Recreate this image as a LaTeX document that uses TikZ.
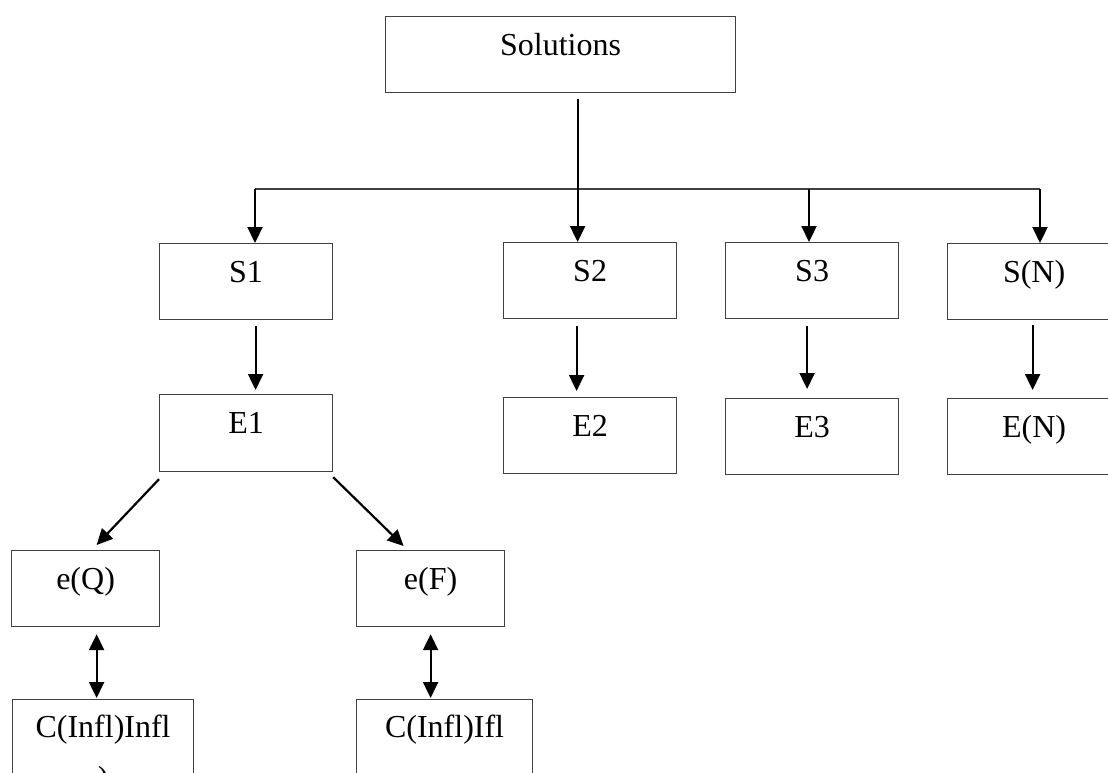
\documentclass[tikz,border=0pt]{standalone}
\usepackage{fontspec}
\setmainfont{Liberation Serif}
\usetikzlibrary{arrows.meta,calc}
\definecolor{boxc}{gray}{0.25}
\tikzset{
  bx/.style={draw=boxc, line width=1.2pt, inner xsep=0pt, inner ysep=0pt,
    text height=39pt, text depth=37pt, minimum width=#1, anchor=north west,
    font=\fontsize{32}{38}\selectfont},
  txt/.style={font=\fontsize{32}{38}\selectfont, anchor=base, inner sep=0pt},
  arr/.style={line width=2.2pt, -{Triangle[length=16pt,width=15pt]}},
  darr/.style={line width=2.2pt, {Triangle[length=16pt,width=15pt]}-{Triangle[length=16pt,width=15pt]}},
  hline/.style={draw=boxc, line width=1.2pt}
}
\begin{document}
\begin{tikzpicture}[x=1pt,y=-1pt]
\useasboundingbox (0,0) rectangle (1108,772);
\clip (0,0) rectangle (1108,772);
% boxes
\node[bx=350pt] (sol) at (385,16) {Solutions};
\node[bx=173pt] (s1) at (159,243) {S1};
\node[bx=173pt, text depth=38pt] (e1) at (159,394) {E1};
\node[bx=173pt] (s2) at (503,242) {S2};
\node[bx=173pt] (e2) at (503,397) {E2};
\node[bx=173pt] (s3) at (725,242) {S3};
\node[bx=173pt] (e3) at (725,398) {E3};
\node[bx=173pt] (sn) at (947,243) {S(N)};
\node[bx=173pt] (en) at (947,398) {E(N)};
\node[bx=148pt] (eq) at (11,550) {e(Q)};
\node[bx=148pt] (ef) at (356,550) {e(F)};
\node[bx=181pt, text height=38pt, text depth=120pt] (cq) at (12,699) {C(Infl)Infl};
\node[txt] (cqb) at ($(cq.north)+(0,-89pt)$) {)};
\node[bx=176pt, text height=38pt, text depth=120pt] (cf) at (356,699) {C(Infl)Ifl};
% connectors
\coordinate (hl) at (255,189);
\coordinate (hm) at (809,189);
\coordinate (hr) at (1040,189);
\draw[hline] (hl) -- (hr);
\draw[arr] ([xshift=17pt,yshift=-6pt]sol.south) -- ([xshift=-12.5pt]s2.north);
\draw[arr] (hl) -- (hl |- s1.north);
\draw[arr] (hm) -- (hm |- s3.north);
\draw[arr] (hr) -- (hr |- sn.north);
\draw[arr] ([xshift=9.5pt,yshift=-6pt]s1.south) -- ([xshift=9.5pt,yshift=4pt]e1.north);
\draw[arr] ([xshift=-13.5pt,yshift=-7pt]s2.south) -- ([xshift=-13.5pt,yshift=6pt]e2.north);
\draw[arr] ([xshift=-5pt,yshift=-7pt]s3.south) -- ([xshift=-5pt,yshift=9pt]e3.north);
\draw[arr] ([xshift=-1.5pt,yshift=-5pt]sn.south) -- ([xshift=-1.5pt,yshift=8pt]en.north);
\draw[arr] ([yshift=-7pt]e1.south west) -- ([xshift=11pt,yshift=5pt]eq.north);
\draw[arr] ([yshift=-5pt]e1.south east) -- ([xshift=-27pt,yshift=4pt]ef.north);
\draw[darr] ([xshift=11pt,yshift=-7pt]eq.south) -- ([xshift=11pt,yshift=1pt]eq.south |- cq.north);
\draw[darr] ([yshift=-7pt]ef.south) -- ([yshift=1pt]ef.south |- cf.north);
\end{tikzpicture}
\end{document}
